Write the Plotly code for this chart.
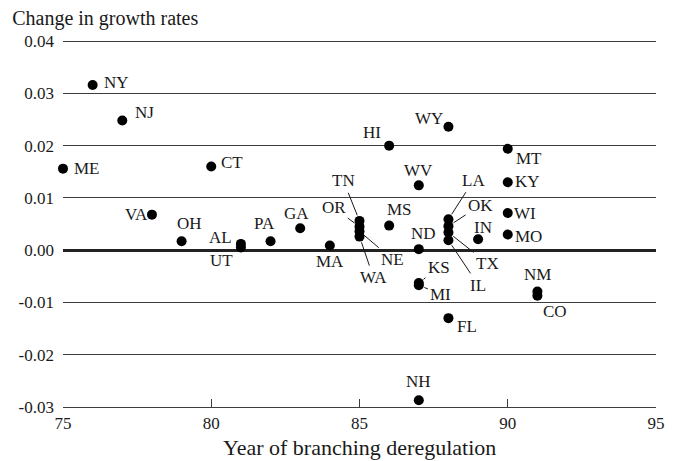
import plotly.graph_objects as go

# ── Data ──────────────────────────────────────────────────────────────────────
states = ["NY", "NJ", "ME", "CT", "VA", "OH", "AL", "UT", "PA", "GA", "MA",
          "TN", "OR", "NE", "WA", "MS", "HI", "WV", "ND", "KS", "MI", "NH",
          "WY", "LA", "OK", "TX", "IL", "FL", "IN", "MT", "KY", "WI", "MO",
          "NM", "CO"]
years = [76, 77, 75, 80, 78, 79, 81, 81, 82, 83, 84,
         85, 85, 85, 85, 86, 86, 87, 87, 87, 87, 87,
         88, 88, 88, 88, 88, 88, 89, 90, 90, 90, 90,
         91, 91]
growth_change = [0.0316, 0.0248, 0.0156, 0.0160, 0.0068, 0.0017, 0.0012, 0.0005, 0.0017, 0.0042, 0.0009,
                 0.0056, 0.0045, 0.0036, 0.0026, 0.0047, 0.0200, 0.0124, 0.0002, -0.0063, -0.0067, -0.0287,
                 0.0236, 0.0059, 0.0046, 0.0034, 0.0019, -0.0130, 0.0021, 0.0194, 0.0130, 0.0071, 0.0030,
                 -0.0079, -0.0087]

x_ticks = [75, 80, 85, 90, 95]
y_ticks = [-0.03, -0.02, -0.01, 0.00, 0.01, 0.02, 0.03, 0.04]
y_ticktext = ["-0.03", "-0.02", "-0.01", "0.00", "0.01", "0.02", "0.03", "0.04"]

# ── Label placement (pixel offsets from the dot, text centre) ────────────────
LABEL_OFF = {
    "NY": (24, -3), "NJ": (22, -8), "ME": (24, 0), "CT": (21, -4),
    "VA": (-15, 0), "OH": (8, -18), "AL": (-20, -6), "UT": (-19, 13),
    "PA": (-6, -18), "GA": (-4, -15), "MA": (0, 16),
    "TN": (-16, -40), "OR": (-26, -19), "NE": (33, 28), "WA": (14, 41),
    "MS": (10, -16), "HI": (-17, -13), "WV": (0, -15), "ND": (5, -16),
    "KS": (20, -16), "MI": (22, 9), "NH": (0, -19),
    "WY": (-19, -8), "LA": (25, -39), "OK": (32, -21), "TX": (39, 31),
    "IL": (30, 45), "FL": (19, 8), "IN": (5, -12),
    "MT": (21, 10), "KY": (20, -1), "WI": (17, 0), "MO": (21, 2),
    "NM": (0, -17), "CO": (18, 16),
}
LEADERS = {"TN", "OR", "NE", "WA", "KS", "MI", "LA", "OK", "TX", "IL"}

FONT = "Liberation Serif, 'DejaVu Serif', serif"
INK = "#1a1a1a"
GRID = "#3c3c3c"

fig = go.Figure(go.Scatter(
    x=years, y=growth_change, mode="markers", text=states,
    marker=dict(size=10, color="black"), cliponaxis=False,
    hovertemplate="%{text}: %{x}, %{y:.4f}<extra></extra>",
    showlegend=False,
))

for s, xv, yv in zip(states, years, growth_change):
    dx, dy = LABEL_OFF[s]
    lead = s in LEADERS
    fig.add_annotation(
        x=xv, y=yv, text=s, ax=dx, ay=dy,
        showarrow=True, arrowhead=0, arrowwidth=1,
        arrowcolor=INK if lead else "rgba(0,0,0,0)",
        standoff=6, startstandoff=1,
        font=dict(family=FONT, size=17, color=INK),
    )

# x-axis title as a fixed annotation so it does not push the bottom margin
fig.add_annotation(
    text="Year of branching deregulation", xref="paper", yref="paper",
    x=0.5, y=0, yshift=-40, yanchor="middle", showarrow=False,
    font=dict(family=FONT, size=22, color=INK),
)

fig.update_layout(
    width=678, height=461,
    paper_bgcolor="white", plot_bgcolor="white",
    font=dict(family=FONT, color=INK, size=16),
    margin=dict(l=63, r=22, t=39, b=54),
    title=dict(text="Change in growth rates", x=0.018, xref="container", xanchor="left",
               y=1 - 18 / 461, yanchor="middle", font=dict(family=FONT, size=20, color=INK)),
    showlegend=False,
)
fig.update_xaxes(
    range=[75, 95], tickvals=x_ticks, showgrid=False, zeroline=False,
    showline=True, linecolor=GRID, linewidth=1.3, automargin=False,
    ticks="inside", ticklen=8, tickcolor=GRID, tickwidth=1.3,
    tickfont=dict(family=FONT, size=17, color=INK),
)
# top of range nudged past 0.04 so plotly keeps the 0.04 grid line
fig.update_yaxes(
    range=[-0.03, 0.0404], tickvals=y_ticks, ticktext=y_ticktext,
    showgrid=True, gridcolor=GRID, gridwidth=1.3, automargin=False,
    zeroline=True, zerolinecolor="#222222", zerolinewidth=3,
    showline=False, ticks="", ticklabelstandoff=8,
    tickfont=dict(family=FONT, size=17, color=INK),
)

fig.write_html("out.html", config={"displayModeBar": False},
               post_script="document.body.style.margin='0';")
